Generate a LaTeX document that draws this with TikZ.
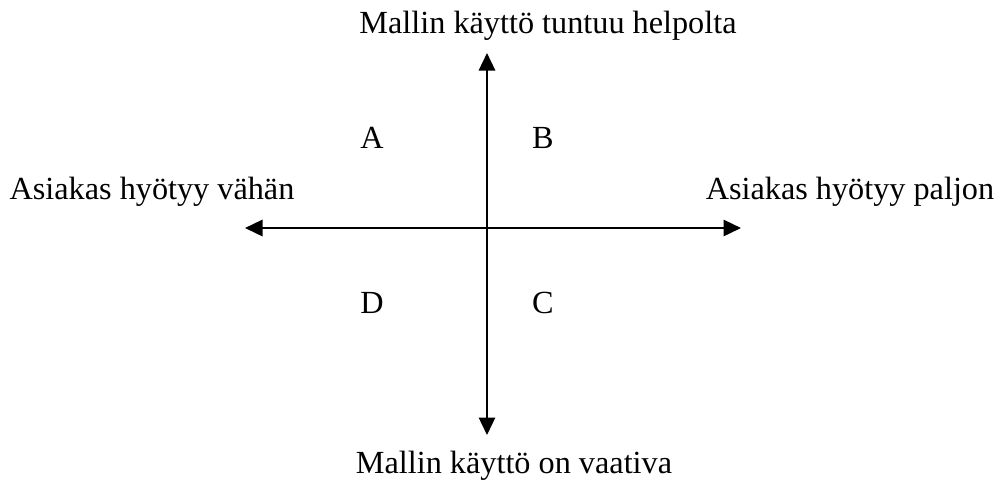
\documentclass[tikz,border=0pt]{standalone}
\usepackage{fontspec}
\setmainfont{Liberation Serif}
\usetikzlibrary{arrows.meta}

\begin{document}
\begin{tikzpicture}[
    x=0.4pt, y=-0.4pt,
    lbl/.style={font=\fontsize{12.9}{15}\selectfont, inner sep=0pt},
    axis/.style={{Triangle[length=7pt, width=6.5pt]}-{Triangle[length=7pt, width=6.5pt]}, line width=0.9pt},
  ]
    \useasboundingbox (0,0) rectangle (1002,483);

    % axis ends
    \coordinate (N) at (487,53);
    \coordinate (S) at (487,435);
    \coordinate (W) at (245,228);
    \coordinate (E) at (741,228);

    % axis labels
    \node[lbl] (easy) at (548,26)  {Mallin käyttö tuntuu helpolta};
    \node[lbl] (hard) at (514,466) {Mallin käyttö on vaativa};
    \node[lbl] (low)  at (152,192) {Asiakas hyötyy vähän};
    \node[lbl] (high) at (850,192) {Asiakas hyötyy paljon};

    % quadrants
    \node[lbl] (qa) at (372,138) {A};
    \node[lbl] (qb) at (543,138) {B};
    \node[lbl] (qd) at (372,303) {D};
    \node[lbl] (qc) at (543,303) {C};

    \draw[axis] (S) -- (N);
    \draw[axis] (W) -- (E);
  \end{tikzpicture}
\end{document}
